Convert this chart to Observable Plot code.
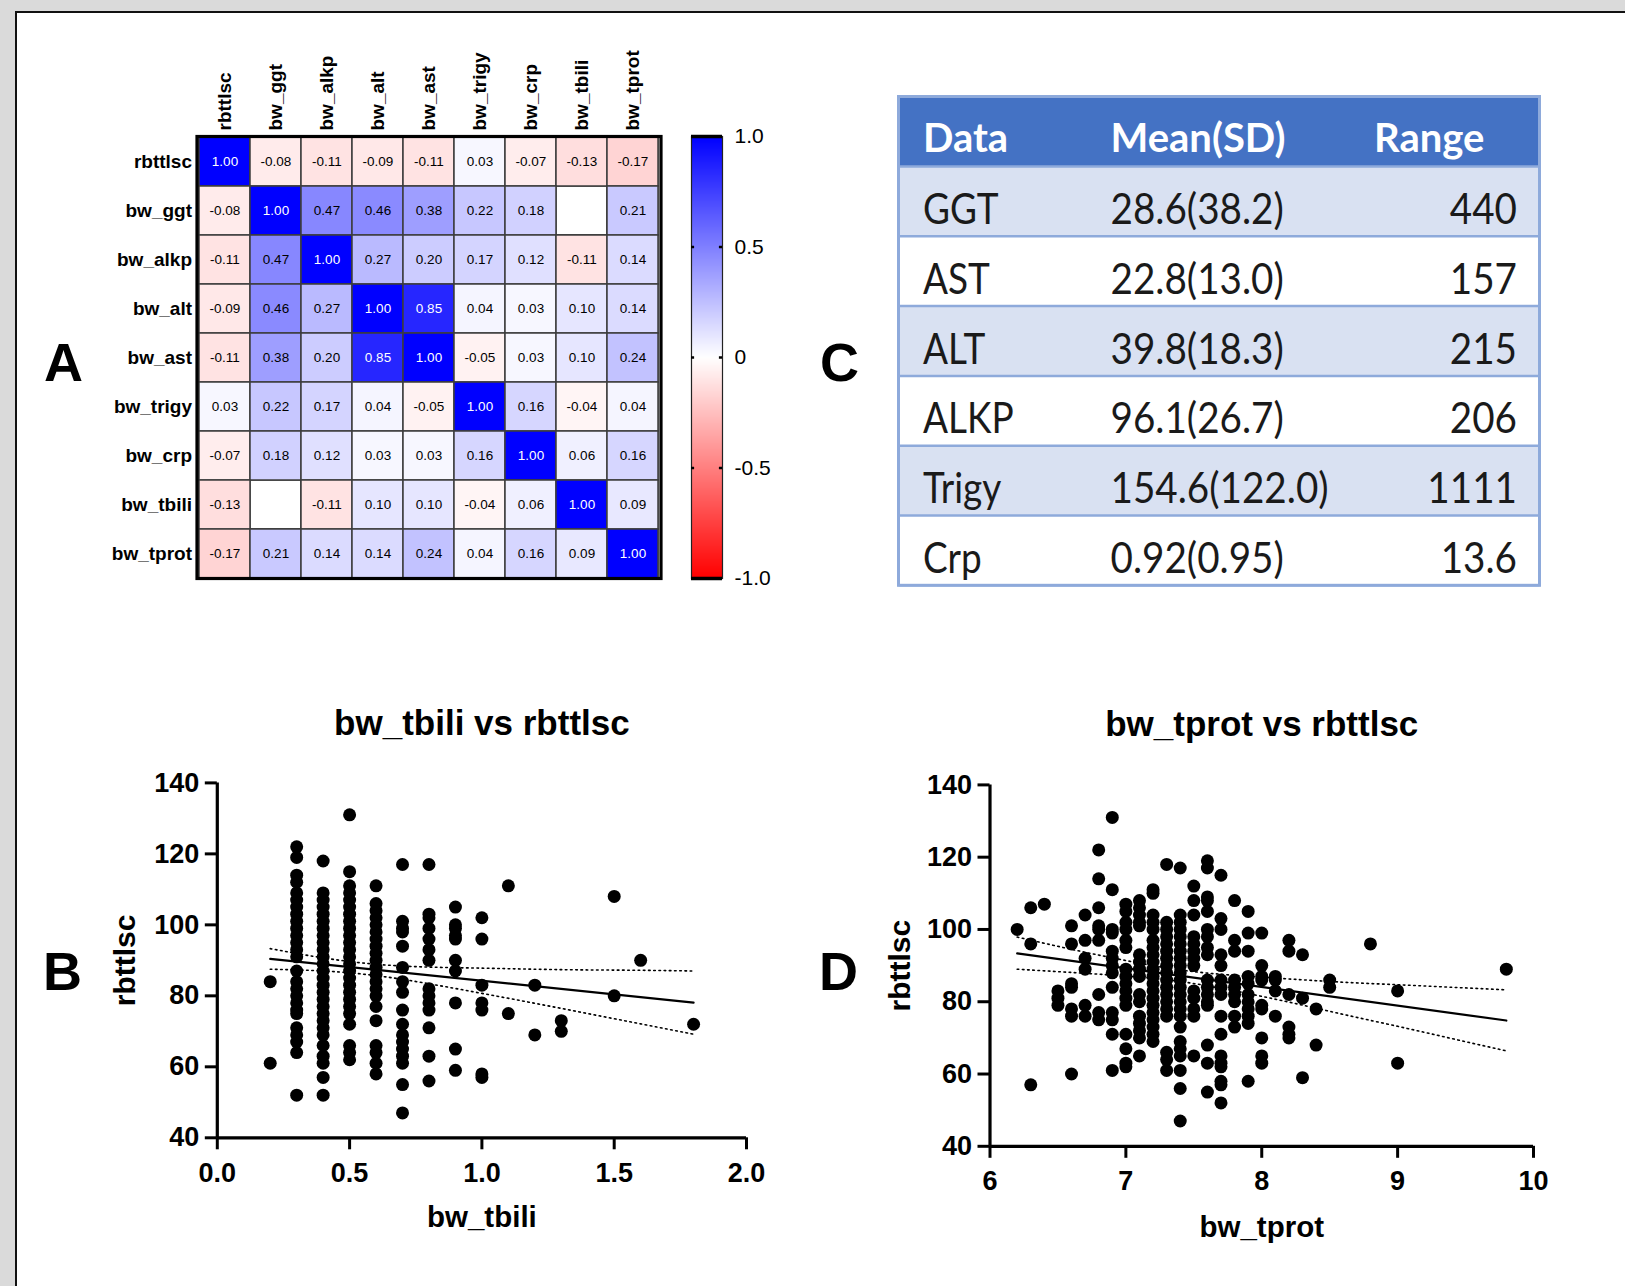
<!DOCTYPE html>
<html>
<head>
<meta charset="utf-8">
<script src="https://cdn.jsdelivr.net/npm/d3@7"></script>
<script src="https://cdn.jsdelivr.net/npm/@observablehq/plot@0.6"></script>
<style>
  body { margin: 0; background: #fff; }
  #page { position: relative; width: 1625px; height: 1286px; background: #fff; overflow: hidden; }
</style>
</head>
<body>
<div id="page"></div>
<script>
// ---------------- DATA ----------------
// Panel A: correlation matrix
const vars = ["rbttlsc","bw_ggt","bw_alkp","bw_alt","bw_ast","bw_trigy","bw_crp","bw_tbili","bw_tprot"];
const corr = [
  [ 1.00,-0.08,-0.11,-0.09,-0.11, 0.03,-0.07,-0.13,-0.17],
  [-0.08, 1.00, 0.47, 0.46, 0.38, 0.22, 0.18, null, 0.21],
  [-0.11, 0.47, 1.00, 0.27, 0.20, 0.17, 0.12,-0.11, 0.14],
  [-0.09, 0.46, 0.27, 1.00, 0.85, 0.04, 0.03, 0.10, 0.14],
  [-0.11, 0.38, 0.20, 0.85, 1.00,-0.05, 0.03, 0.10, 0.24],
  [ 0.03, 0.22, 0.17, 0.04,-0.05, 1.00, 0.16,-0.04, 0.04],
  [-0.07, 0.18, 0.12, 0.03, 0.03, 0.16, 1.00, 0.06, 0.16],
  [-0.13, null,-0.11, 0.10, 0.10,-0.04, 0.06, 1.00, 0.09],
  [-0.17, 0.21, 0.14, 0.14, 0.24, 0.04, 0.16, 0.09, 1.00]
];
const colorbarTicks = [-1, -0.5, 0, 0.5, 1];
const colorbarLabels = ["-1.0", "-0.5", "0", "0.5", "1.0"];
const colorbarInnerTicks = [-0.5, 0, 0.5];

// Panel C: summary table
const tableHeader = ["Data", "Mean(SD)", "Range"];
const tableNames = ["GGT", "AST", "ALT", "ALKP", "Trigy", "Crp"];
const tableMeanSD = ["28.6(38.2)", "22.8(13.0)", "39.8(18.3)", "96.1(26.7)", "154.6(122.0)", "0.92(0.95)"];
const tableRange = ["440", "157", "215", "206", "1111", "13.6"];

// Panel B: bw_tbili vs rbttlsc
const tbiliLevels = [0.2,0.3,0.4,0.5,0.6,0.7,0.8,0.9,1.0,1.1,1.2,1.3,1.5,1.6,1.8];
const tbiliRbttlsc = [
  [84,61],
  [122,119,114,112,109,107,105,103,101,99,97,95,93,91,87,84,82,80,78,76,75,71,69,67,64,52],
  [118,109,107,105,103,101,99,97,95,93,91,89,87,85,83,81,79,77,75,73,71,69,66,63,61,57,52],
  [131,115,111,109,107,105,103,101,99,97,95,93,91,89,87,85,83,81,79,77,75,72,66,64,62],
  [111,106,104,102,100,98,96,94,92,90,88,86,84,82,80,77,73,66,64,61,58],
  [117,101,99,98,94,88,84,81,76,72,69,67,65,63,61,55,47],
  [117,103,102,99,96,93,90,82,80,78,76,71,63,56],
  [105,100,99,97,96,90,87,78,65,59],
  [102,96,83,78,76,58,57],
  [111,75],
  [83,69],
  [73,70],
  [108,80],
  [90],
  [72]
];
const tbiliFitX = [0.2, 1.8];
const tbiliFitY = [90.4, 78.1];
const tbiliBandX = [0.2,0.4,0.6,0.8,1.0,1.2,1.4,1.6,1.8];
const tbiliBandUpper = [93.3,90.7,88.9,88.1,87.8,87.5,87.3,87.2,87.0];
const tbiliBandLower = [87.5,87.0,85.7,83.4,80.7,77.9,75.0,72.1,69.2];

// Panel D: bw_tprot vs rbttlsc
const tprotLevels = [6.2,6.3,6.4,6.5,6.6,6.7,6.8,6.9,7.0,7.1,7.2,7.3,7.4,7.5,7.6,7.7,7.8,7.9,8.0,8.1,8.2,8.3,8.4,8.5,8.8,9.0,9.8];
const tprotRbttlsc = [
  [100],
  [106,96,57],
  [107],
  [83,81,79],
  [101,96,85,84,78,76,60],
  [104,97,92,89,79,76],
  [122,114,106,101,100,97,82,77,75],
  [131,111,100,99,94,92,90,88,84,77,75,71,61],
  [107,105,102,100,97,95,89,87,85,83,81,79,71,67,63,62],
  [108,106,104,102,101,93,91,89,87,82,80,76,74,72,70,65],
  [111,110,104,102,100,97,95,93,91,89,87,85,83,81,79,77,75,73,71,69],
  [118,102,100,98,96,94,92,90,88,86,84,82,80,78,76,66,64,61],
  [117,104,102,100,98,96,94,92,90,88,86,84,82,80,78,76,73,69,67,65,61,56,47],
  [112,108,104,98,96,94,92,90,83,81,78,76,65],
  [119,117,109,108,105,100,98,95,93,86,84,82,80,79,68,63,55],
  [115,103,100,93,90,86,84,82,76,71,65,63,62,58,57,52],
  [108,97,94,86,84,82,80,76,73],
  [105,99,94,87,85,82,80,78,76,74,58],
  [99,90,87,86,79,78,70,65,63],
  [87,86,83,76],
  [97,94,82,73,71,70],
  [93,81,59],
  [78,68],
  [86,84],
  [96],
  [83,63],
  [89]
];
const tprotFitX = [6.2, 9.8];
const tprotFitY = [93.4, 74.8];
const tprotBandX = [6.2,6.6,7.0,7.4,7.8,8.2,8.6,9.0,9.4,9.8];
const tprotBandUpper = [97.9,94.5,91.4,88.8,87.3,86.3,85.4,84.7,84.0,83.3];
const tprotBandLower = [89.0,88.1,87.1,85.6,83.0,79.9,76.5,73.2,69.8,66.4];

const scatterYTicks = [40,60,80,100,120,140];
const tbiliXTicks = [0,0.5,1.0,1.5,2.0];
const tprotXTicks = [6,7,8,9,10];

// ---------------- LAYOUT ----------------
const SANS = "'Liberation Sans', Arial, Helvetica, sans-serif";
const page = document.getElementById("page");
function place(el, left, top) {
  el.style.position = "absolute";
  el.style.left = left + "px";
  el.style.top = top + "px";
  el.style.overflow = "visible";
  page.appendChild(el);
}
function box(left, top, w, h, bg) {
  const d = document.createElement("div");
  d.style.cssText = `position:absolute;left:${left}px;top:${top}px;width:${w}px;height:${h}px;background:${bg};`;
  page.appendChild(d);
}
// outer frame (grey margin + black border)
box(0, 0, 1625, 11, "#dadada");
box(0, 0, 14.5, 1286, "#dadada");
box(14.5, 11, 1611, 2.4, "#111");
box(14.5, 11, 2.4, 1275, "#111");

const colorScale = {type: "linear", domain: [-1, 0, 1], range: ["#ff0000", "#ffffff", "#0000ff"], interpolate: "rgb"};

// ---------- Panel A: heatmap ----------
const cells = [];
vars.forEach((r, i) => vars.forEach((c, j) => cells.push({row: r, col: c, v: corr[i][j]})));
const valued = cells.filter(d => d.v != null);

const heat = Plot.plot({
  width: 680, height: 600,
  marginLeft: 196.5, marginRight: 19.5, marginTop: 136, marginBottom: 22,
  style: {fontFamily: SANS, background: "transparent", overflow: "visible"},
  x: {type: "band", domain: vars, padding: 0},
  y: {type: "band", domain: vars, padding: 0},
  color: colorScale,
  marks: [
    Plot.cell(cells, {x: "col", y: "row", fill: "white", stroke: "#3c3c3c", strokeWidth: 1.5}),
    Plot.cell(valued, {x: "col", y: "row", fill: "v", stroke: "#3c3c3c", strokeWidth: 1.5}),
    Plot.text(valued.filter(d => d.v < 0.7), {x: "col", y: "row", text: d => d.v.toFixed(2), fill: "black", fontSize: 13.5}),
    Plot.text(valued.filter(d => d.v >= 0.7), {x: "col", y: "row", text: d => d.v.toFixed(2), fill: "white", fontSize: 13.5}),
    Plot.axisY({anchor: "left", tickSize: 0, tickPadding: 5, fontSize: 19, fontWeight: "bold", label: null}),
    Plot.axisX({anchor: "top", tickSize: 0, tickPadding: 6, tickRotate: -90, fontSize: 19, fontWeight: "bold", label: null}),
    Plot.frame({stroke: "black", strokeWidth: 3.2})
  ]
});
place(heat, 0, 0);

// colour bar
const cbar = Plot.plot({
  width: 140, height: 600,
  marginLeft: 31, marginRight: 78, marginTop: 136, marginBottom: 22,
  style: {fontFamily: SANS, background: "transparent", overflow: "visible"},
  x: {domain: [0, 1], axis: null},
  y: {domain: [-1, 1], axis: null},
  color: colorScale,
  marks: [
    Plot.raster({fill: (x, y) => y, x1: 0, x2: 1, y1: -1, y2: 1, width: 4, height: 442, imageRendering: "auto"}),
    Plot.frame({stroke: "#222", strokeWidth: 1.2}),
    Plot.ruleY([-1, 1], {stroke: "black", strokeWidth: 3.5}),
    Plot.ruleY(colorbarInnerTicks, {x1: 0, x2: 0.1, stroke: "black", strokeWidth: 2.5}),
    Plot.ruleY(colorbarInnerTicks, {x1: 0.9, x2: 1, stroke: "black", strokeWidth: 2.5}),
    Plot.axisY({anchor: "right", ticks: colorbarTicks, tickFormat: d => colorbarLabels[colorbarTicks.indexOf(d)], tickSize: 0, tickPadding: 12, fontSize: 21, label: null})
  ]
});
place(cbar, 660, 0);

// ---------- Panel C: table ----------
(function () {
  const W = 648, H = 496, x0 = 2.5, y0 = 2.5, tw = 641, rowH = 69.8, headH = 70;
  const svg = d3.create("svg").attr("width", W).attr("height", H);
  svg.append("rect").attr("x", x0).attr("y", y0).attr("width", tw).attr("height", headH).attr("fill", "#4472c4");
  tableNames.forEach((_, i) => {
    svg.append("rect").attr("x", x0).attr("y", y0 + headH + i * rowH).attr("width", tw).attr("height", rowH)
      .attr("fill", i % 2 === 0 ? "#d9e1f2" : "#ffffff");
  });
  for (let i = 0; i <= tableNames.length; i++) {
    svg.append("line").attr("x1", x0).attr("x2", x0 + tw)
      .attr("y1", y0 + headH + i * rowH).attr("y2", y0 + headH + i * rowH)
      .attr("stroke", "#8eaadb").attr("stroke-width", 2.5);
  }
  svg.append("rect").attr("x", x0).attr("y", y0).attr("width", tw).attr("height", headH + rowH * tableNames.length)
    .attr("fill", "none").attr("stroke", "#8eaadb").attr("stroke-width", 3);
  const hx = [27, 214.5, 478];
  tableHeader.forEach((t, j) => {
    svg.append("text").attr("x", x0 + hx[j] - 2.5).attr("y", y0 + 55)
      .attr("font-family", "Lato, 'Open Sans', sans-serif").attr("font-weight", "bold").attr("font-size", 40)
      .attr("fill", "white").text(t);
  });
  const FONT = "Lato, 'Open Sans', sans-serif";
  tableNames.forEach((name, i) => {
    const base = y0 + headH + i * rowH + 57.5;
    const cols = [[name, 24.5, "start", 0.88], [tableMeanSD[i], 212, "start", 0.92], [tableRange[i], 618.5, "end", 0.92]];
    cols.forEach(([t, x, anchor, sx]) => {
      svg.append("text").attr("transform", `translate(${x0 + x},${base}) scale(${sx},1)`)
        .attr("text-anchor", anchor).attr("font-family", FONT).attr("font-size", 42)
        .attr("fill", "#1a1a1a").text(t);
    });
  });
  place(svg.node(), 896, 94);
})();

// ---------- Scatter panels ----------
function scatter({levels, values, fitX, fitY, bandX, bandUp, bandLo, xDomain, xTicks, xFormat, title, xLabel,
                  width, height, mL, mR, mT, mB, titleDy, xLabDy, yLabDx}) {
  const pts = levels.flatMap((x, i) => values[i].map(y => ({x, y})));
  const fit = fitX.map((x, i) => ({x, y: fitY[i]}));
  const up = bandX.map((x, i) => ({x, y: bandUp[i]}));
  const lo = bandX.map((x, i) => ({x, y: bandLo[i]}));
  return Plot.plot({
    width, height, marginLeft: mL, marginRight: mR, marginTop: mT, marginBottom: mB,
    style: {fontFamily: SANS, background: "transparent", overflow: "visible", color: "black"},
    x: {domain: xDomain},
    y: {domain: [40, 140]},
    marks: [
      Plot.axisX({ticks: xTicks, tickFormat: xFormat, tickSize: 12, tickPadding: 13, strokeWidth: 3, fontSize: 27, fontWeight: "bold", label: null}),
      Plot.axisY({ticks: scatterYTicks, tickSize: 12, tickPadding: 6, strokeWidth: 3, fontSize: 27, fontWeight: "bold", label: null}),
      Plot.ruleX([xDomain[0]], {stroke: "black", strokeWidth: 3.2}),
      Plot.ruleY([40], {stroke: "black", strokeWidth: 3.2}),
      Plot.line(up, {x: "x", y: "y", curve: "natural", stroke: "black", strokeWidth: 1.6, strokeDasharray: "1.6 3.6"}),
      Plot.line(lo, {x: "x", y: "y", curve: "natural", stroke: "black", strokeWidth: 1.6, strokeDasharray: "1.6 3.6"}),
      Plot.line(fit, {x: "x", y: "y", stroke: "black", strokeWidth: 2.2}),
      Plot.dot(pts, {x: "x", y: "y", r: 6.5, fill: "black", stroke: "none"}),
      Plot.text([title], {text: d => d, frameAnchor: "top", dy: titleDy, lineAnchor: "bottom", fontSize: 35, fontWeight: "bold"}),
      Plot.text([xLabel], {text: d => d, frameAnchor: "bottom", dy: xLabDy, lineAnchor: "bottom", fontSize: 29.5, fontWeight: "bold"}),
      Plot.text(["rbttlsc"], {text: d => d, frameAnchor: "left", dx: yLabDx, rotate: -90, textAnchor: "middle", lineAnchor: "middle", fontSize: 30, fontWeight: "bold"})
    ]
  });
}

const plotB = scatter({
  levels: tbiliLevels, values: tbiliRbttlsc, fitX: tbiliFitX, fitY: tbiliFitY,
  bandX: tbiliBandX, bandUp: tbiliBandUpper, bandLo: tbiliBandLower,
  xDomain: [0, 2], xTicks: tbiliXTicks, xFormat: d3.format(".1f"),
  title: "bw_tbili vs rbttlsc", xLabel: "bw_tbili",
  width: 790, height: 580, mL: 216.8, mR: 44, mT: 92.4, mB: 132.7,
  titleDy: -48, xLabDy: 89, yLabDx: -92
});
place(plotB, 0, 690);

const plotD = scatter({
  levels: tprotLevels, values: tprotRbttlsc, fitX: tprotFitX, fitY: tprotFitY,
  bandX: tprotBandX, bandUp: tprotBandUpper, bandLo: tprotBandLower,
  xDomain: [6, 10], xTicks: tprotXTicks, xFormat: d3.format("d"),
  title: "bw_tprot vs rbttlsc", xLabel: "bw_tprot",
  width: 790, height: 580, mL: 189.5, mR: 57, mT: 94.4, mB: 124.2,
  titleDy: -49, xLabDy: 91, yLabDx: -89.5
});
place(plotD, 800, 690);

// ---------- Panel letters ----------
(function () {
  const svg = d3.create("svg").attr("width", 1625).attr("height", 1286).style("pointer-events", "none");
  const letters = [["A", 44, 381], ["B", 43, 990], ["C", 820, 381], ["D", 819, 990]];
  letters.forEach(([t, x, y]) => {
    svg.append("text").attr("x", x).attr("y", y).attr("font-family", SANS).attr("font-weight", "bold")
      .attr("font-size", 54).attr("fill", "black").text(t);
  });
  place(svg.node(), 0, 0);
})();
</script>
</body>
</html>
